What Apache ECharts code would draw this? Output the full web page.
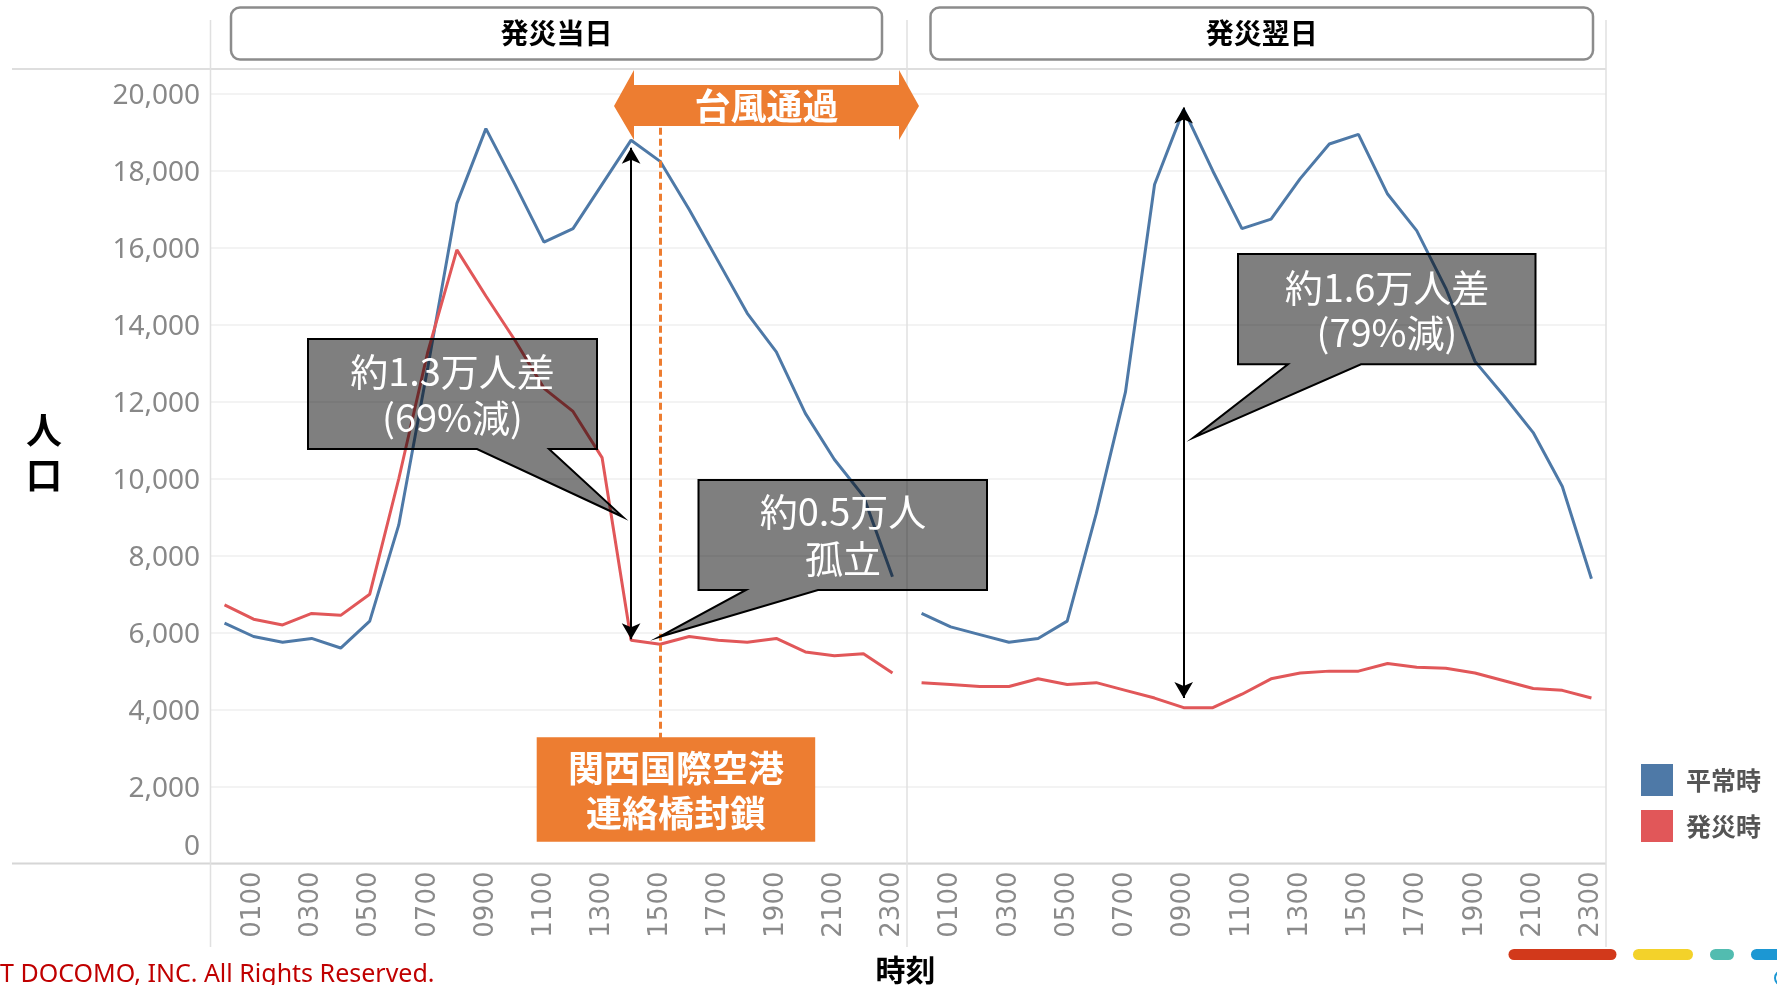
<!DOCTYPE html>
<html lang="ja">
<head>
<meta charset="UTF-8">
<title>発災当日・翌日の人口推移</title>
<script src="https://cdn.jsdelivr.net/npm/echarts@6.0.0/dist/echarts.min.js"></script>
<style>
  html, body { margin: 0; padding: 0; background: #fff; }
  #chart { width: 1777px; height: 985px; }
</style>
</head>
<body>
<div id="chart"></div>
<script>
// 時刻（1時間ごと）
const hours = ['0000','0100','0200','0300','0400','0500','0600','0700','0800','0900','1000','1100',
               '1200','1300','1400','1500','1600','1700','1800','1900','2000','2100','2200','2300'];

// 発災当日
const normalDay1   = [6250, 5900, 5750, 5850, 5600, 6300, 8800, 12900, 17150, 19100, 17650, 16150,
                      16500, 17650, 18800, 18250, 17000, 15650, 14300, 13300, 11700, 10500, 9550, 7450];
const disasterDay1 = [6720, 6350, 6200, 6500, 6450, 7000, 10000, 13300, 15950, 14750, 13600, 12350,
                      11750, 10550, 5800, 5700, 5900, 5800, 5750, 5850, 5500, 5400, 5450, 4950];

// 発災翌日
const normalDay2   = [6500, 6150, 5950, 5750, 5850, 6300, 9100, 12250, 17650, 19600, 18000, 16500,
                      16750, 17800, 18700, 18950, 17400, 16450, 14950, 13050, 12150, 11200, 9800, 7400];
const disasterDay2 = [4700, 4650, 4600, 4600, 4800, 4650, 4700, 4500, 4300, 4050, 4050, 4400,
                      4800, 4950, 5000, 5000, 5200, 5100, 5075, 4950, 4750, 4550, 4500, 4300];

// 矢印・破線の位置（データ座標）
const gapDay1  = [['1400', 18600], ['1400', 5830]];
const gapDay2  = [['0900', 19650], ['0900', 4300]];
const closeLine = [['1500', 19120], ['1500', 3000]];

const CJK = '"Noto Sans CJK JP", "Noto Sans", sans-serif';
const BLUE = '#4E79A7', RED = '#E15759', ORANGE = '#ED7D31';

function yLabel(v) {
    if (v === 0) return '{zero|0}';
    if (v % 2000 !== 0) return '';
    return v.toLocaleString('en-US');
}

function xAxisOf(i) {
    return {
        gridIndex: i, type: 'category', data: hours, boundaryGap: true,
        axisLine: { show: false }, axisTick: { show: false }, splitLine: { show: false },
        axisLabel: {
            rotate: 90, margin: 8, interval: (idx) => idx % 2 === 1,
            color: '#8a8a8a', fontSize: 26, fontFamily: '"DejaVu Sans", sans-serif'
        }
    };
}

function yAxisOf(i) {
    return {
        gridIndex: i, type: 'value', min: 0, max: 20650, interval: 2000,
        axisLine: { show: false }, axisTick: { show: false },
        splitLine: { lineStyle: { color: '#efefef', width: 1.5 } },
        axisLabel: {
            show: i === 0, formatter: yLabel, margin: 10, padding: [5, 0, 0, 0],
            color: '#888', fontSize: 28, fontFamily: '"Noto Sans", sans-serif',
            rich: { zero: { padding: [0, 0, 37, 0], color: '#888', fontSize: 28, fontFamily: '"Noto Sans", sans-serif' } }
        }
    };
}

function arrowMark(pair) {
    return {
        silent: true, animation: false,
        symbol: ['arrow', 'arrow'], symbolSize: [14, 16],
        label: { show: false },
        lineStyle: { color: '#000', width: 2, type: 'solid' },
        data: [[{ coord: pair[0] }, { coord: pair[1] }]]
    };
}

function txt(text, x, y, size, color, weight, lh) {
    return {
        type: 'text', z: 20,
        style: {
            text: text, x: x, y: y, fill: color,
            font: (weight || 'normal') + ' ' + size + 'px ' + CJK,
            lineHeight: lh || size * 1.2,
            align: 'center', verticalAlign: 'middle',
            textAlign: 'center', textVerticalAlign: 'middle'
        }
    };
}

function callout(points) {
    return {
        type: 'polygon', z: 15,
        shape: { points: points },
        style: { fill: 'rgba(0,0,0,0.5)', stroke: '#000', lineWidth: 2 }
    };
}

function hline(x1, x2, y, color, w) {
    return { type: 'line', z: 1, shape: { x1: x1, y1: y, x2: x2, y2: y }, style: { stroke: color, lineWidth: w } };
}
function vline(x, y1, y2) {
    return { type: 'line', z: 1, shape: { x1: x, y1: y1, x2: x, y2: y2 }, style: { stroke: '#e0e0e0', lineWidth: 1.5 } };
}

const chart = echarts.init(document.getElementById('chart'));

const option = {
    animation: false,
    backgroundColor: '#fff',
    grid: [
        { left: 210, top: 69, width: 697, height: 794.5 },
        { left: 907, top: 69, width: 699, height: 794.5 }
    ],
    xAxis: [xAxisOf(0), xAxisOf(1)],
    yAxis: [yAxisOf(0), yAxisOf(1)],
    legend: {
        orient: 'vertical', left: 1641, top: 764, padding: 0,
        itemWidth: 32, itemHeight: 32, itemGap: 14, icon: 'rect',
        selectedMode: false,
        data: ['平常時', '発災時'],
        textStyle: { fontSize: 25, fontWeight: 'bold', color: '#555', fontFamily: CJK, padding: [0, 0, 0, 8] }
    },
    series: [
        {
            name: '平常時', type: 'line', xAxisIndex: 0, yAxisIndex: 0, data: normalDay1,
            symbol: 'none', color: BLUE, lineStyle: { width: 3 }, z: 3,
            markLine: arrowMark(gapDay1)
        },
        {
            name: '発災時', type: 'line', xAxisIndex: 0, yAxisIndex: 0, data: disasterDay1,
            symbol: 'none', color: RED, lineStyle: { width: 3 }, z: 3,
            markLine: {
                silent: true, animation: false, symbol: ['none', 'none'],
                label: { show: false },
                lineStyle: { color: ORANGE, width: 3, type: [7, 4] },
                data: [[{ coord: closeLine[0] }, { coord: closeLine[1] }]]
            }
        },
        {
            name: '平常時', type: 'line', xAxisIndex: 1, yAxisIndex: 1, data: normalDay2,
            symbol: 'none', color: BLUE, lineStyle: { width: 3 }, z: 3,
            markLine: arrowMark(gapDay2)
        },
        {
            name: '発災時', type: 'line', xAxisIndex: 1, yAxisIndex: 1, data: disasterDay2,
            symbol: 'none', color: RED, lineStyle: { width: 3 }, z: 3
        }
    ],
    graphic: [
        // 枠線
        hline(12, 1606, 69, '#dedede', 2),
        hline(12, 1606, 863.5, '#d6d6d6', 2),
        vline(210.5, 20, 947),
        vline(907, 20, 947),
        vline(1606, 20, 947),

        // 見出し
        { type: 'rect', z: 5, shape: { x: 231, y: 7.5, width: 651, height: 52, r: 9 },
          style: { fill: '#fff', stroke: '#8c8c8c', lineWidth: 2.5 } },
        txt('発災当日', 556.5, 33.5, 28, '#000', 'bold'),
        { type: 'rect', z: 5, shape: { x: 930.5, y: 7.5, width: 662.5, height: 52, r: 9 },
          style: { fill: '#fff', stroke: '#8c8c8c', lineWidth: 2.5 } },
        txt('発災翌日', 1261.7, 33.5, 28, '#000', 'bold'),

        // 台風通過
        { type: 'polygon', z: 12,
          shape: { points: [[614,106],[634,70],[634,85],[899,85],[899,70],[919,106],[899,140],[899,126],[634,126],[634,140]] },
          style: { fill: ORANGE } },
        txt('台風通過', 766.5, 106, 36, '#fff', 'bold'),

        // 関西国際空港 連絡橋封鎖
        { type: 'rect', z: 12, shape: { x: 536.7, y: 737.3, width: 278.5, height: 104.4 }, style: { fill: ORANGE } },
        txt('関西国際空港\n連絡橋封鎖', 676, 790.5, 36, '#fff', 'bold', 45),

        // 吹き出し
        callout([[308,339],[597,339],[597,449],[549,449],[623,517],[477,449],[308,449]]),
        txt('約1.3万人差\n(69%減)', 452.5, 395, 38, '#fff', 'normal', 46),
        callout([[698.5,480],[987,480],[987,590],[818,590],[659,637],[746,590],[698.5,590]]),
        txt('約0.5万人\n孤立', 843, 535, 38, '#fff', 'normal', 47),
        callout([[1238,254],[1535.5,254],[1535.5,364.3],[1361,364.3],[1193.5,437.7],[1288,364.3],[1238,364.3]]),
        txt('約1.6万人差\n(79%減)', 1387, 310.5, 38, '#fff', 'normal', 45),

        // 軸タイトル
        txt('人\n口', 44, 452.5, 36, '#000', 'bold', 45),
        txt('時刻', 905.5, 970, 30, '#000', 'bold'),

        // フッター
        { type: 'text', z: 20,
          style: { text: 'T DOCOMO, INC. All Rights Reserved.', x: 0, y: 975, fill: '#C00000',
                   font: '25px "Noto Sans", sans-serif', align: 'left', verticalAlign: 'middle',
                   textAlign: 'left', textVerticalAlign: 'middle' } },
        { type: 'rect', z: 5, shape: { x: 1508.5, y: 949, width: 108, height: 11, r: 5.5 }, style: { fill: '#D2391B' } },
        { type: 'rect', z: 5, shape: { x: 1633, y: 949, width: 60, height: 11, r: 5.5 }, style: { fill: '#F3D22A' } },
        { type: 'rect', z: 5, shape: { x: 1710, y: 949, width: 24, height: 11, r: 5.5 }, style: { fill: '#52BCB0' } },
        { type: 'rect', z: 5, shape: { x: 1751, y: 949, width: 40, height: 11, r: 5.5 }, style: { fill: '#1C97D3' } },
        { type: 'circle', z: 5, shape: { cx: 1782, cy: 978, r: 7 }, style: { fill: 'none', stroke: '#1C97D3', lineWidth: 2 } }
    ]
};

chart.setOption(option);
</script>
</body>
</html>
